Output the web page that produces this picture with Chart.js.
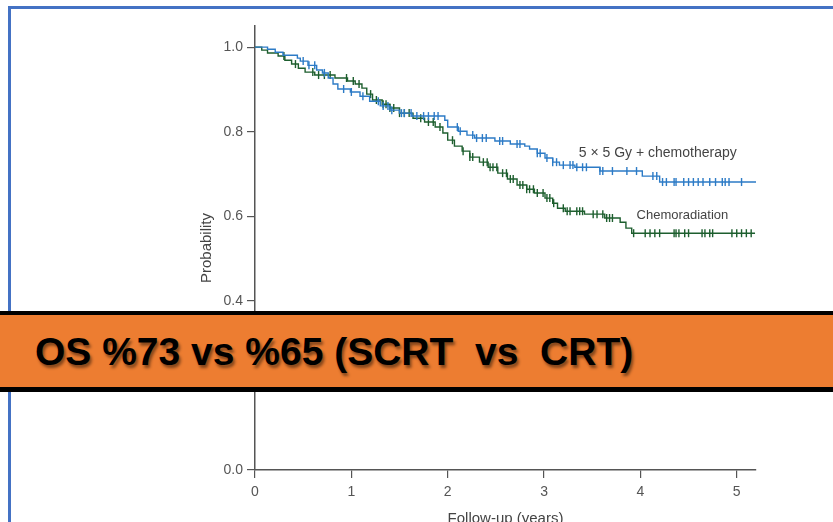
<!DOCTYPE html>
<html>
<head>
<meta charset="utf-8">
<script src="https://cdn.jsdelivr.net/npm/chart.js@4/dist/chart.umd.min.js"></script>
<style>
  html, body { margin: 0; padding: 0; background: #fff; overflow: hidden; }
  #wrap { position: relative; width: 833px; height: 545px; }
  #chart { position: absolute; left: 0; top: 0; }
  #frame { position: absolute; left: 8px; top: 6px; width: 900px; height: 600px;
    border-top: 3px solid #4472c4; border-left: 3px solid #4472c4; }
  #banner { position: absolute; left: 0; top: 311px; width: 833px; height: 72px;
    background: #ed7d31; border-top: 4px solid #000; border-bottom: 5px solid #000; }
  #banner span { position: absolute; left: 35px; top: 17px; white-space: pre;
    font: bold 39px "Liberation Sans", Arial, sans-serif; line-height: 39px; color: #000;
    text-shadow: 2px 3px 3px rgba(0,0,0,0.45); }
</style>
</head>
<body>
<div id="wrap">
  <canvas id="chart" width="833" height="545"></canvas>
  <div id="frame"></div>
  <div id="banner"><span>OS %73 vs %65 (SCRT  vs  CRT)</span></div>
</div>
<script>
// Kaplan-Meier steps (years, probability after the drop)
const scrtTimes = [0, 0.13, 0.21, 0.29, 0.44, 0.47, 0.55, 0.64, 0.70, 0.76, 0.81, 0.86, 0.99, 1.09, 1.19, 1.30, 1.40, 1.50, 1.63, 1.97, 2.00, 2.11, 2.20, 2.28, 2.49, 2.65, 2.80, 2.85, 2.93, 3.01, 3.09, 3.16, 3.32, 3.58, 4.02, 4.20, 5.21];
const scrtSurv  = [1.0, 0.995, 0.988, 0.981, 0.974, 0.967, 0.957, 0.946, 0.939, 0.927, 0.913, 0.901, 0.894, 0.884, 0.872, 0.861, 0.851, 0.844, 0.837, 0.827, 0.811, 0.801, 0.792, 0.785, 0.778, 0.771, 0.766, 0.759, 0.749, 0.738, 0.728, 0.721, 0.716, 0.707, 0.695, 0.681, 0.681];
const scrtCensor = [0.50, 0.56, 0.62, 0.72, 0.92, 1.00, 1.12, 1.28, 1.33, 1.38, 1.42, 1.52, 1.55, 1.62, 1.68, 1.75, 1.80, 1.86, 1.90, 2.10, 2.13, 2.26, 2.30, 2.36, 2.40, 2.54, 2.57, 2.72, 2.75, 2.93, 2.96, 3.03, 3.09, 3.13, 3.20, 3.27, 3.30, 3.34, 3.40, 3.44, 3.58, 3.61, 3.71, 3.86, 3.96, 4.13, 4.17, 4.23, 4.27, 4.35, 4.37, 4.45, 4.50, 4.55, 4.60, 4.65, 4.72, 4.78, 4.85, 4.88, 4.92, 5.05];

const crtTimes = [0, 0.07, 0.13, 0.24, 0.31, 0.38, 0.45, 0.52, 0.62, 0.83, 0.96, 1.04, 1.11, 1.16, 1.22, 1.32, 1.40, 1.50, 1.64, 1.76, 1.87, 1.95, 2.00, 2.07, 2.15, 2.23, 2.33, 2.42, 2.52, 2.62, 2.72, 2.82, 2.90, 3.01, 3.09, 3.14, 3.22, 3.42, 3.63, 3.79, 3.85, 3.91, 5.19];
const crtSurv  = [1.0, 0.993, 0.986, 0.979, 0.969, 0.960, 0.950, 0.941, 0.934, 0.927, 0.920, 0.913, 0.903, 0.889, 0.875, 0.865, 0.856, 0.844, 0.832, 0.823, 0.811, 0.797, 0.780, 0.766, 0.754, 0.740, 0.728, 0.716, 0.702, 0.688, 0.674, 0.664, 0.655, 0.643, 0.631, 0.619, 0.612, 0.605, 0.596, 0.586, 0.572, 0.560, 0.560];
const crtCensor = [0.30, 0.42, 0.60, 0.66, 0.72, 0.78, 0.95, 1.02, 1.08, 1.20, 1.26, 1.33, 1.36, 1.40, 1.44, 1.50, 1.55, 1.60, 1.72, 1.80, 1.85, 1.92, 2.05, 2.16, 2.23, 2.26, 2.37, 2.41, 2.44, 2.47, 2.51, 2.57, 2.61, 2.65, 2.68, 2.75, 2.78, 2.82, 2.85, 2.89, 2.93, 2.99, 3.03, 3.06, 3.10, 3.20, 3.24, 3.27, 3.34, 3.37, 3.40, 3.51, 3.55, 3.61, 3.65, 3.68, 3.71, 3.93, 4.05, 4.10, 4.15, 4.20, 4.35, 4.37, 4.40, 4.46, 4.50, 4.64, 4.67, 4.72, 4.75, 4.95, 5.00, 5.05, 5.10, 5.15];

const xTicks = [0, 1, 2, 3, 4, 5];
const yTicks = [0, 0.2, 0.4, 0.6, 0.8, 1.0];

const blue = '#2c7bc6';
const green = '#1d5e2e';
const axisGrey = '#555';

function steps(times, surv) {
  return times.map((t, i) => ({ x: t, y: surv[i] }));
}
// censor mark sits on the curve: value of last step at or before t
function marks(times, surv, censor) {
  return censor.map(c => {
    let v = surv[0];
    for (let i = 0; i < times.length; i++) if (times[i] <= c) v = surv[i];
    return { x: c, y: v };
  });
}

const curveLabels = {
  id: 'curveLabels',
  afterDatasetsDraw(chart) {
    const { ctx, scales: { x, y } } = chart;
    ctx.save();
    ctx.fillStyle = '#444';
    ctx.textBaseline = 'middle';
    ctx.font = '14px "Liberation Sans", Arial';
    ctx.fillText('5 × 5 Gy + chemotherapy', x.getPixelForValue(3.36), y.getPixelForValue(0.749));
    ctx.font = '13px "Liberation Sans", Arial';
    ctx.fillText('Chemoradiation', x.getPixelForValue(3.96), y.getPixelForValue(0.603));
    ctx.restore();
  }
};

const lineSet = (label, data, color) => ({
  label, data, borderColor: color, borderWidth: 1.4, stepped: true,
  pointRadius: 0, fill: false
});
const markSet = (label, data, color) => ({
  label, data, showLine: false, borderColor: color, borderWidth: 1.4,
  pointStyle: 'line', pointRotation: 90, pointRadius: 4, pointHoverRadius: 4
});

new Chart(document.getElementById('chart'), {
  type: 'line',
  data: {
    datasets: [
      lineSet('5 × 5 Gy + chemotherapy', steps(scrtTimes, scrtSurv), blue),
      markSet('5 × 5 censored', marks(scrtTimes, scrtSurv, scrtCensor), blue),
      lineSet('Chemoradiation', steps(crtTimes, crtSurv), green),
      markSet('Chemoradiation censored', marks(crtTimes, crtSurv, crtCensor), green)
    ]
  },
  options: {
    responsive: false,
    animation: false,
    layout: { padding: { left: 194, right: 77, top: 26, bottom: 13 } },
    plugins: { legend: { display: false }, tooltip: { enabled: false } },
    scales: {
      x: {
        type: 'linear', min: 0, max: 5.2,
        afterBuildTicks: s => { s.ticks = xTicks.map(v => ({ value: v })); },
        afterFit: s => { s.height = 62; },
        ticks: { color: axisGrey, padding: 6, font: { family: 'Liberation Sans', size: 14 } },
        grid: { drawOnChartArea: false, drawTicks: true, tickLength: 8, color: axisGrey, lineWidth: 1.2 },
        border: { color: axisGrey, width: 1.5 },
        title: { display: true, text: 'Follow-up (years)', color: '#444', font: { family: 'Liberation Sans', size: 15 } }
      },
      y: {
        type: 'linear', min: 0, max: 1.05,
        afterBuildTicks: s => { s.ticks = yTicks.map(v => ({ value: v })); },
        afterFit: s => { s.width = 61; },
        ticks: { color: axisGrey, padding: 4, callback: v => v.toFixed(1), font: { family: 'Liberation Sans', size: 14 } },
        grid: { drawOnChartArea: false, drawTicks: true, tickLength: 8, color: axisGrey, lineWidth: 1.2 },
        border: { color: axisGrey, width: 1.5 },
        title: { display: true, text: 'Probability', color: '#444', font: { family: 'Liberation Sans', size: 15 } }
      }
    }
  },
  plugins: [curveLabels]
});
</script>
</body>
</html>
